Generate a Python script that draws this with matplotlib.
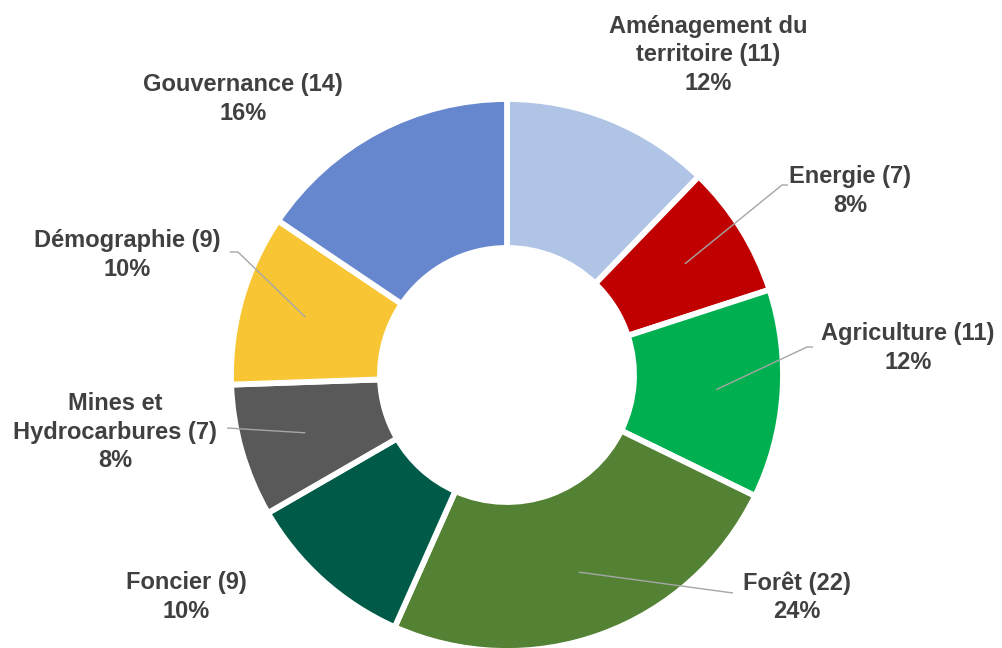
import matplotlib
matplotlib.use("Agg")
import matplotlib.pyplot as plt
import numpy as np

# ---- data ----
categories = ["Aménagement du\nterritoire", "Energie", "Agriculture", "Forêt",
              "Foncier", "Mines et\nHydrocarbures", "Démographie", "Gouvernance"]
values = [11, 7, 11, 22, 9, 7, 9, 14]
colors = ["#B0C4E6", "#C00000", "#00B050", "#548235",
          "#005A48", "#595959", "#F8C634", "#6687CE"]

# ---- layout (pixel coordinates, y from top) ----
W, H = 1002, 648
cx, cy = 507, 375
R_out, R_in = 276, 127

# label block centre (x, y)
label_pos = [(708, 55), (850, 191), (908, 348), (797, 597),
             (186, 597), (115, 432), (127, 255), (243, 99)]
elbows = [None, (782, 185), (807, 347), (733, 593),
          None, (227, 428), (238, 252), None]
elbow_ends = [None, (788, 185), (813, 347), None,
              None, None, (230, 252), None]

fig = plt.figure(figsize=(W / 100, H / 100), dpi=100)
ax = fig.add_axes([0, 0, 1, 1])

def fy(y):
    return H - y

wedges, _ = ax.pie(values, colors=colors, startangle=90, counterclock=False,
                   radius=R_out, center=(cx, fy(cy)),
                   wedgeprops=dict(width=R_out - R_in, edgecolor="white",
                                   linewidth=4.2))

total = sum(values)
start = 90.0
line_col = "#A6A6A6"
for i, (cat, v) in enumerate(zip(categories, values)):
    ang = start - v / total * 360 / 2
    start -= v / total * 360
    pct = round(v / total * 100)
    lx, ly = label_pos[i]
    txt = f"{cat} ({v})\n{pct}%"
    ax.text(lx, fy(ly), txt, ha="center", va="center", fontsize=17,
            fontweight="bold", color="#404040", family="Liberation Sans",
            linespacing=1.3, multialignment="center")
    if elbows[i] is not None:
        ax_r = 0.76 * R_out
        px = cx + ax_r * np.cos(np.radians(ang))
        py = cy - ax_r * np.sin(np.radians(ang))
        ex, ey = elbows[i]
        xs = [px, ex]
        ys = [fy(py), fy(ey)]
        if elbow_ends[i] is not None:
            xs.append(elbow_ends[i][0])
            ys.append(fy(elbow_ends[i][1]))
        ax.plot(xs, ys, color=line_col, lw=1.0, solid_capstyle="butt")

ax.set_xlim(0, W)
ax.set_ylim(0, H)
ax.set_aspect("equal")
ax.axis("off")
fig.savefig("out.png", dpi=100, facecolor="white")
